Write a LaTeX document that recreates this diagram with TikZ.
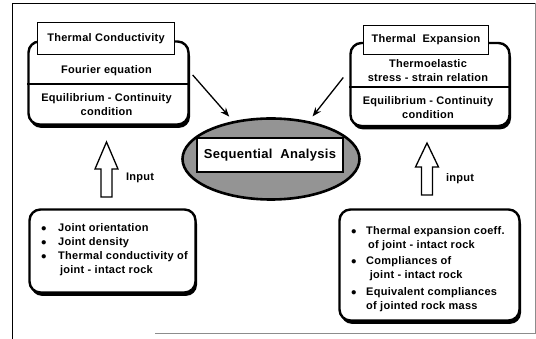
\documentclass[tikz,border=0pt]{standalone}
\usepackage{fontspec}
\setmainfont[LetterSpace=2.5]{Liberation Sans}
\usetikzlibrary{shapes.geometric,shadows,calc,arrows.meta}
\begin{document}
\begin{tikzpicture}[x=1pt,y=-1pt,
  lbl/.style={font=\fontsize{11}{14}\selectfont\bfseries, align=center, inner sep=0pt},
  panel/.style={draw, line width=2.4pt, rounded corners=11pt, fill=white,
    drop shadow={shadow xshift=1.5pt, shadow yshift=-3.4pt, fill=black, opacity=1}},
  titlebox/.style={draw, line width=1.2pt, fill=white, font=\fontsize{11}{14}\selectfont\bfseries, inner sep=0pt},
  flow/.style={line width=1.3pt, -{Stealth[length=9pt,width=7pt]}},
  divider/.style={line width=1.2pt},
  frameline/.style={line width=0.8pt},
  inarrow/.pic={\draw[line width=1.3pt, fill=white, line join=miter]
      (-5.5,0) -- (-5.5,-28) -- (-11.5,-28) -- (0,-#1) -- (11.5,-28) -- (5.5,-28) -- (5.5,0) -- cycle;}
]
\useasboundingbox (0,0) rectangle (536,339);
% outer frame
\draw[frameline] (12,339) -- (12,3) -- (536,3);
\draw[frameline, black!45] (535,3) -- (535,333);
\draw[frameline, black!45] (155,333) -- (536,333);

% left top panel
\node[panel, minimum width=160pt, minimum height=83pt] (tcbox) at (108.5,83) {};
\node[titlebox, minimum width=137pt, minimum height=32pt] (tc) at (106,38.5) {Thermal Conductivity};
\draw[divider] ($(tcbox.west)+(0,1)$) -- ($(tcbox.east)+(0,1)$);
\node[lbl] (fourier) at (106.5,71) {Fourier equation};
\node[lbl] (eqcl) at (106.5,105) {Equilibrium - Continuity\\condition};

% right top panel
\node[panel, minimum width=159pt, minimum height=83pt] (tebox) at (430,84.5) {};
\node[titlebox, minimum width=125pt, minimum height=29pt] (te) at (426,40) {Thermal\ \ Expansion};
\draw[divider] ($(tebox.west)+(0,2.5)$) -- ($(tebox.east)+(0,2.5)$);
\node[lbl] (thermo) at (428,71) {Thermoelastic\\stress - strain relation};
\node[lbl] (eqcr) at (428,108) {Equilibrium - Continuity\\condition};

% central ellipse
\node[ellipse, draw, line width=2.6pt, fill=black!42, minimum width=177pt, minimum height=81pt] (sa) at (271,159) {};
\node[draw, line width=1.2pt, fill=white, minimum width=146pt, minimum height=34pt, inner sep=0pt,
  font=\fontsize{13}{15}\selectfont\bfseries] (sat) at (270,155) {Sequential\ \ Analysis};

% arrows to ellipse
\draw[flow, shorten >=6pt] ($(tcbox.east)+(3,-8)$) -- (sa.135);
\draw[flow, shorten >=6pt] ($(tebox.west)+(-6,-7)$) -- (sa.45);

% bottom-left panel
\node[panel, minimum width=166pt, minimum height=83pt] (blbox) at (112.5,251) {};
\node[lbl, align=left, anchor=west] (bltext) at (41,249.5) {%
  \begin{tabular}{@{}p{17pt}@{}l@{}}
  $\bullet$ & Joint orientation\\
  $\bullet$ & Joint density\\
  $\bullet$ & Thermal conductivity of\\
  & \,joint - intact rock
  \end{tabular}};

% bottom-right panel
\node[panel, minimum width=180pt, minimum height=111pt] (brbox) at (429.5,265) {};
\node[lbl, align=left, anchor=west] (brtext) at (351,269) {%
  \begin{tabular}{@{}p{15pt}@{}l@{}}
  $\bullet$ & Thermal expansion coeff.\\
  & \,of joint - intact rock\\[2.5pt]
  $\bullet$ & Compliances of\\
  & \,\,joint - intact rock\\[2.5pt]
  $\bullet$ & Equivalent compliances\\
  & of jointed rock mass
  \end{tabular}};

% hollow input arrows
\pic at (106.5,197) {inarrow=55};
\pic at (427,195) {inarrow=52};
\node[lbl] (inl) at (140,178) {Input};
\node[lbl] (inr) at (460,179) {input};
\end{tikzpicture}
\end{document}
